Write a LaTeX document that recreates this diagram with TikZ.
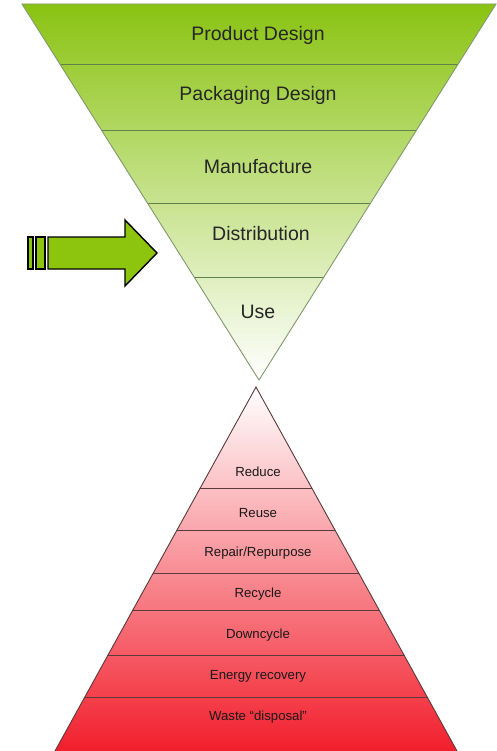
\documentclass[tikz,border=0pt]{standalone}
\usepackage{fontspec}
\setmainfont{Liberation Sans}
\usetikzlibrary{positioning}

\definecolor{leafgreen}{HTML}{8AC312}
\definecolor{palegreen}{HTML}{C6DEA4}
\definecolor{arrowgreen}{HTML}{8CC40E}
\definecolor{wastered}{HTML}{F21E2C}
\definecolor{funnelrule}{HTML}{62804A}
\definecolor{pyramidrule}{HTML}{5A3A3A}

\begin{document}
\begin{tikzpicture}[x=1pt,y=-1pt,
    stage/.style={font=\fontsize{19.5}{20}\selectfont, text=black!85},
    tier/.style={font=\fontsize{13.2}{14}\selectfont, text=black!90},
    funnelline/.style={draw=funnelrule, line width=1pt},
    pyramidline/.style={draw=pyramidrule, line width=0.9pt},
    pusharrow/.style={fill=arrowgreen, draw=black, line width=1.4pt, line join=miter}
  ]
  \useasboundingbox (0,0) rectangle (496,751);

  % life cycle funnel
  \coordinate (ftl) at (22,4);
  \coordinate (ftr) at (496,4);
  \coordinate (fbot) at (259,380);
  \shade[top color=leafgreen, middle color=palegreen, bottom color=white]
    (ftl) -- (ftr) -- (fbot) -- cycle;
  \begin{scope}
    \clip (ftl) -- (ftr) -- (fbot) -- cycle;
    \foreach \y in {65,131,204,277}
      \draw[funnelline] (0,\y) -- (496,\y);
  \end{scope}
  \draw[draw=funnelrule!80, line width=0.9pt] (ftl) -- (ftr) -- (fbot) -- cycle;

  \node[stage] (design) at (258,35) {Product Design};
  \node[stage] (packaging) at (258,95) {Packaging Design};
  \node[stage] (manufacture) at (258,167) {Manufacture};
  \node[stage] (distribution) at (261,234) {Distribution};
  \node[stage] (use) at (258,312) {Use};

  % arrow pointing at the funnel
  \draw[pusharrow] (28,237) rectangle (33,269);
  \draw[pusharrow] (36,237) rectangle (45,269);
  \draw[pusharrow] (48,237) -- (125,237) -- (125,220) -- (157,253)
    -- (125,286) -- (125,269) -- (48,269) -- cycle;

  % waste hierarchy
  \coordinate (ptop) at (256,387);
  \coordinate (pbl) at (55,751);
  \coordinate (pbr) at (457,751);
  \shade[top color=white, bottom color=wastered] (ptop) -- (pbr) -- (pbl) -- cycle;
  \begin{scope}
    \clip (ptop) -- (pbr) -- (pbl) -- cycle;
    \foreach \y in {488,530,573,610,655,697}
      \draw[pyramidline] (0,\y) -- (496,\y);
  \end{scope}
  \draw[pyramidline] (pbl) -- (ptop) -- (pbr);

  \node[tier] (reduce) at (258,472) {Reduce};
  \node[tier] (reuse) at (258,513) {Reuse};
  \node[tier] (repair) at (258,553) {Repair/Repurpose};
  \node[tier] (recycle) at (258,594) {Recycle};
  \node[tier] (downcycle) at (258,635) {Downcycle};
  \node[tier] (energy) at (258,676) {Energy recovery};
  \node[tier] (disposal) at (258,717) {Waste “disposal”};
\end{tikzpicture}
\end{document}
